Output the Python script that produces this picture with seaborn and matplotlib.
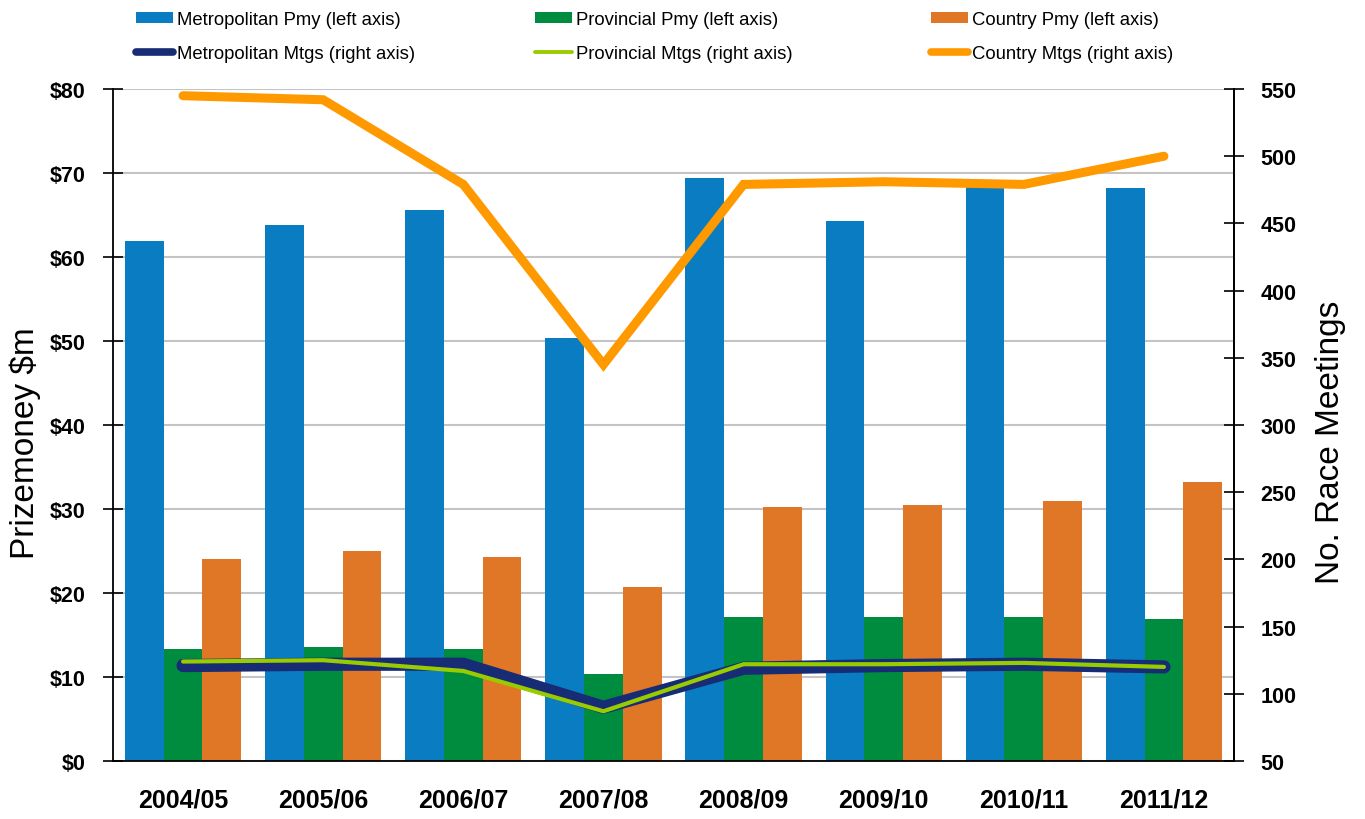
import numpy as np
import pandas as pd
import matplotlib
matplotlib.use("Agg")
import matplotlib.pyplot as plt
import seaborn as sns
from matplotlib.patches import Patch
from matplotlib.lines import Line2D
from matplotlib.ticker import FixedLocator, FuncFormatter

# ---------------- data ----------------
seasons = ["2004/05", "2005/06", "2006/07", "2007/08", "2008/09", "2009/10", "2010/11", "2011/12"]
metro_pmy = [61.9, 63.8, 65.6, 50.4, 69.4, 64.3, 68.7, 68.2]
prov_pmy = [13.3, 13.6, 13.3, 10.4, 17.1, 17.1, 17.1, 16.9]
country_pmy = [24.0, 25.0, 24.3, 20.7, 30.2, 30.5, 31.0, 33.2]
metro_mtgs = [121, 122, 122, 90, 119, 121, 122, 120]
prov_mtgs = [124, 125, 117, 87, 122, 122, 123, 120]
country_mtgs = [545, 542, 479, 345, 479, 481, 479, 500]

bar_names = ["Metropolitan Pmy (left axis)", "Provincial Pmy (left axis)", "Country Pmy (left axis)"]
line_names = ["Metropolitan Mtgs (right axis)", "Provincial Mtgs (right axis)", "Country Mtgs (right axis)"]
left_ticks = [0, 10, 20, 30, 40, 50, 60, 70, 80]
right_ticks = [50, 100, 150, 200, 250, 300, 350, 400, 450, 500, 550]

# ---------------- styles ----------------
bar_colors = ["#0A7DC2", "#008C3F", "#E07727"]
line_colors = ["#172C74", "#99CC00", "#FF9900"]
line_widths = [9.5, 3.0, 6.5]

sns.set_style("white")
plt.rcParams["font.family"] = ["Liberation Sans", "DejaVu Sans"]
plt.rcParams["text.color"] = "black"
plt.rcParams["axes.labelcolor"] = "black"
plt.rcParams["xtick.color"] = "black"
plt.rcParams["ytick.color"] = "black"

pos = list(range(len(seasons)))
bars_df = pd.DataFrame({"pos": pos * 3,
                        "value": metro_pmy + prov_pmy + country_pmy,
                        "series": sum([[n] * len(seasons) for n in bar_names], [])})
lines_df = pd.DataFrame({"pos": pos, "m": metro_mtgs, "p": prov_mtgs, "c": country_mtgs})

fig = plt.figure(figsize=(13.65, 8.2), dpi=100)
ax = fig.add_axes([113 / 1365, 1 - 762 / 820, (1234 - 113) / 1365, (762 - 90) / 820])

sns.barplot(data=bars_df, x="pos", y="value", hue="series", hue_order=bar_names,
            palette=dict(zip(bar_names, bar_colors)), width=0.83, linewidth=0,
            saturation=1, legend=False, ax=ax)

ax.set_xlim(-0.5, len(seasons) - 0.5)
ax.set_ylim(left_ticks[0], left_ticks[-1])
ax.yaxis.set_major_locator(FixedLocator(left_ticks))
ax.yaxis.set_major_formatter(FuncFormatter(lambda v, p: f"${v:.0f}"))
ax.set_xticks(pos)
ax.set_xticklabels(seasons, fontsize=18, fontweight="bold", color="black")
ax.set_xticks([p - 0.5 for p in pos] + [pos[-1] + 0.5], minor=True)
ax.tick_params(axis="x", which="major", length=0, pad=19)
ax.tick_params(axis="x", which="minor", direction="inout", length=14, width=1.2, color="black")
ax.tick_params(axis="y", direction="inout", length=14, width=1.2, color="black",
               labelsize=15.5, pad=13, left=True, labelcolor="black")
for lab in ax.get_yticklabels():
    lab.set_fontweight("bold")
ax.grid(axis="y", color="#C4C4C4", linewidth=1.5)
ax.grid(axis="x", visible=False)
ax.set_axisbelow(True)
ax.set_xlabel("")
ax.set_ylabel("Prizemoney $m", fontsize=24, color="black")
ax.yaxis.set_label_coords(-0.064, 0.475)
for s in ["left", "bottom", "right"]:
    ax.spines[s].set_visible(True)
    ax.spines[s].set_color("black")
    ax.spines[s].set_linewidth(1.3)
ax.spines["top"].set_visible(False)

ax2 = ax.twinx()
for col, c, lw in zip(["m", "p", "c"], line_colors, line_widths):
    sns.lineplot(data=lines_df, x="pos", y=col, color=c, linewidth=lw, ax=ax2,
                 solid_capstyle="round", solid_joinstyle="miter")
ax2.set_ylim(right_ticks[0], right_ticks[-1])
ax2.yaxis.set_major_locator(FixedLocator(right_ticks))
ax2.tick_params(axis="y", direction="inout", length=14, width=1.2, color="black",
                labelsize=15.5, pad=12, right=True, labelcolor="black")
for lab in ax2.get_yticklabels():
    lab.set_fontweight("bold")
ax2.set_ylabel("No. Race Meetings", fontsize=24, color="black")
ax2.yaxis.set_label_coords(1.0725, 0.475)
ax2.set_xlabel("")
ax2.grid(False)
for s in ["left", "bottom", "top"]:
    ax2.spines[s].set_visible(False)
ax2.spines["right"].set_color("black")
ax2.spines["right"].set_linewidth(1.3)
ax2.set_xlim(-0.5, len(seasons) - 0.5)

# ---------------- legend (three columns) ----------------
legend_lws = [5.5, 2.8, 5.5]
col_x = [136, 535, 931]
for i in range(3):
    handles = [Patch(facecolor=bar_colors[i], edgecolor="none"),
               Line2D([0], [0], color=line_colors[i], lw=legend_lws[i], solid_capstyle="round")]
    fig.legend(handles, [bar_names[i], line_names[i]], loc="upper left",
               bbox_to_anchor=(col_x[i] / 1365, 1 - 12 / 820), frameon=False,
               fontsize=13.3, handlelength=2.0, handleheight=0.5, handletextpad=0.2,
               labelspacing=0.9, borderpad=0, borderaxespad=0, labelcolor="black")

fig.savefig("out.png", dpi=100)
